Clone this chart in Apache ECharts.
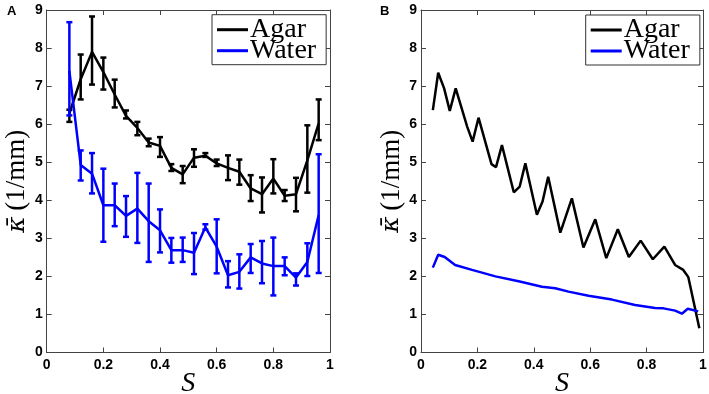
<!DOCTYPE html>
<html><head><meta charset="utf-8">
<script src="https://cdn.jsdelivr.net/npm/echarts@6/dist/echarts.min.js"></script>
<style>html,body{margin:0;padding:0;background:#fff}#c{width:709px;height:394px}</style>
</head><body><div id="c"></div>
<script>
// Panel A (error bars)
const sA = [0.08,0.12,0.16,0.20,0.24,0.28,0.32,0.36,0.40,0.44,0.48,0.52,0.56,0.60,0.64,0.68,0.72,0.76,0.80,0.84,0.88,0.92,0.96];
const agarA   = [6.28,7.18,7.90,7.37,6.78,6.22,5.90,5.52,5.43,4.85,4.68,5.12,5.17,4.97,4.85,4.75,4.31,4.16,4.57,4.12,4.16,5.05,6.02];
const agarALo = [6.06,6.65,7.04,6.91,6.44,6.15,5.71,5.42,5.14,4.77,4.45,4.88,5.14,4.90,4.53,4.41,3.98,3.68,4.18,3.98,3.71,4.20,5.58];
const agarAHi = [6.38,7.83,8.83,7.75,7.17,6.36,6.06,5.62,5.66,4.95,4.90,5.34,5.24,5.07,5.18,5.07,4.66,4.60,5.08,4.27,4.59,5.97,6.65];
const waterA   = [7.40,4.93,4.70,3.87,3.87,3.59,3.78,3.45,3.21,2.69,2.69,2.62,3.29,2.78,2.03,2.12,2.50,2.34,2.27,2.27,1.97,2.38,3.61];
const waterALo = [6.23,4.52,4.18,2.91,3.32,3.04,2.88,2.38,2.63,2.36,2.38,2.06,3.23,2.08,1.71,1.68,2.09,1.82,1.50,2.03,1.76,2.01,2.09];
const waterAHi = [8.68,5.31,5.24,4.83,4.44,4.11,4.72,4.44,3.76,3.01,3.02,3.14,3.37,3.50,2.40,2.58,2.85,2.93,3.02,2.50,2.08,2.87,5.21];
// Panel B
const sAgarB = [0.042,0.061,0.082,0.102,0.123,0.164,0.183,0.204,0.250,0.266,0.287,0.329,0.350,0.370,0.411,0.431,0.451,0.494,0.535,0.576,0.618,0.657,0.698,0.737,0.779,0.822,0.863,0.901,0.930,0.948,0.987];
const agarB  = [6.37,7.35,6.94,6.35,6.94,5.93,5.54,6.17,4.95,4.87,5.45,4.21,4.36,4.97,3.62,3.97,4.62,3.15,4.05,2.76,3.50,2.48,3.24,2.51,2.94,2.45,2.78,2.30,2.17,1.98,0.64];
const sWaterB = [0.042,0.061,0.084,0.121,0.181,0.264,0.346,0.429,0.476,0.523,0.594,0.677,0.759,0.830,0.860,0.901,0.925,0.946,0.983];
const waterB  = [2.23,2.57,2.51,2.30,2.17,2.00,1.87,1.73,1.69,1.60,1.49,1.39,1.25,1.17,1.16,1.10,1.02,1.15,1.08];
const xTicks = [0,0.2,0.4,0.6,0.8,1];
const yTicks = [0,1,2,3,4,5,6,7,8,9];
const names = ['Agar','Water'];
const colors = ['#000000','#0000ff'];

const zip = (xs, ys) => xs.map((x,i)=>[x, ys[i]]);
const errData = (xs, lo, hi) => xs.map((x,i)=>[x, lo[i], hi[i]]);
const axisColor = '#444';
const tickFont = {fontFamily:'Liberation Sans, Arial, sans-serif', fontWeight:'bold', fontSize:14, color:'#000'};

function xAxes(grid, main){
  return {
    gridIndex: grid, type:'value', min:0, max:1, interval:0.2,
    position: main ? 'bottom' : 'top',
    axisLine:{show:true, onZero:false, lineStyle:{color:axisColor, width:1}},
    axisTick:{show:true, inside:true, length:5, lineStyle:{color:axisColor}},
    axisLabel:Object.assign({show:main, margin:6, formatter:v=>String(v)}, tickFont),
    splitLine:{show:false},
    name: main ? 'S' : '', nameLocation:'middle', nameGap:17, nameMoveOverlap:false,
    nameTextStyle:{fontFamily:'Liberation Serif, serif', fontStyle:'italic', fontSize:28, color:'#000'}
  };
}
function yAxes(grid, main){
  return {
    gridIndex: grid, type:'value', min:0, max:9, interval:1,
    position: main ? 'left' : 'right',
    axisLine:{show:true, onZero:false, lineStyle:{color:axisColor, width:1}},
    axisTick:{show:true, inside:true, length:5, lineStyle:{color:axisColor}},
    axisLabel:Object.assign({show:main, margin:4}, tickFont),
    splitLine:{show:false},
    name: main ? '{k|\u03BA\u0304}{n|\u2009(1/mm)}' : '', nameLocation:'middle', nameGap:16, nameMoveOverlap:false,
    nameTextStyle:{color:'#000',
      rich:{
        k:{fontFamily:'DejaVu Serif, serif', fontStyle:'italic', fontSize:25, color:'#000'},
        n:{fontFamily:'Liberation Serif, serif', fontSize:27, color:'#000'}
      }}
  };
}
function errSeries(name, color, xi, yi, data, z){
  return {
    type:'custom', name:name, xAxisIndex:xi, yAxisIndex:yi, data:data, z:z,
    renderItem:(params, api)=>{
      const x = api.value(0);
      const p1 = api.coord([x, api.value(1)]);
      const p2 = api.coord([x, api.value(2)]);
      const w = 3;
      const st = {stroke:color, lineWidth:2.5};
      return {type:'group', children:[
        {type:'line', shape:{x1:p1[0], y1:p1[1], x2:p2[0], y2:p2[1]}, style:st},
        {type:'line', shape:{x1:p1[0]-w, y1:p1[1], x2:p1[0]+w, y2:p1[1]}, style:st},
        {type:'line', shape:{x1:p2[0]-w, y1:p2[1], x2:p2[0]+w, y2:p2[1]}, style:st}
      ]};
    }
  };
}
function lineSeries(name, color, xi, yi, data, z){
  return {type:'line', name:name, xAxisIndex:xi, yAxisIndex:yi, data:data, symbol:'none',
    lineStyle:{color:color, width:2.5}, itemStyle:{color:color}, z:z, animation:false};
}
function legend(left, top){
  return {
    left:left, top:top, orient:'vertical', data:names,
    icon:'rect', itemWidth:31, itemHeight:3, itemGap:-7, padding:[1,10,0,5],
    backgroundColor:'#fff', borderColor:'#333', borderWidth:1, borderRadius:0,
    selectedMode:false,
    textStyle:{fontFamily:'Liberation Serif, serif', fontSize:28, color:'#000', padding:[0,0,0,-3]}
  };
}

const chart = echarts.init(document.getElementById('c'), null, {renderer:'canvas'});
chart.setOption({
  animation:false,
  backgroundColor:'#fff',
  color: colors,
  grid:[
    {left:46.7, right:379, top:10, bottom:41.5, outerBoundsMode:'none', containLabel:false},
    {left:421, right:6, top:10, bottom:41.5, outerBoundsMode:'none', containLabel:false}
  ],
  xAxis:[xAxes(0,true), xAxes(0,false), xAxes(1,true), xAxes(1,false)],
  yAxis:[yAxes(0,true), yAxes(0,false), yAxes(1,true), yAxes(1,false)],
  legend:[legend(212, 14.7), legend(585.7, 15)],
  graphic:[
    {type:'text', left:7, top:5, style:{text:'A', font:'bold 13px Liberation Sans, Arial, sans-serif', fill:'#000'}},
    {type:'text', left:380, top:5, style:{text:'B', font:'bold 13px Liberation Sans, Arial, sans-serif', fill:'#000'}}
  ],
  series:[
    lineSeries('Agar', colors[0], 0, 0, zip(sA, agarA), 2),
    errSeries('Agar', colors[0], 0, 0, errData(sA, agarALo, agarAHi), 3),
    lineSeries('Water', colors[1], 0, 0, zip(sA, waterA), 4),
    errSeries('Water', colors[1], 0, 0, errData(sA, waterALo, waterAHi), 5),
    lineSeries('Agar', colors[0], 2, 2, zip(sAgarB, agarB), 2),
    lineSeries('Water', colors[1], 2, 2, zip(sWaterB, waterB), 3)
  ]
});
</script></body></html>
